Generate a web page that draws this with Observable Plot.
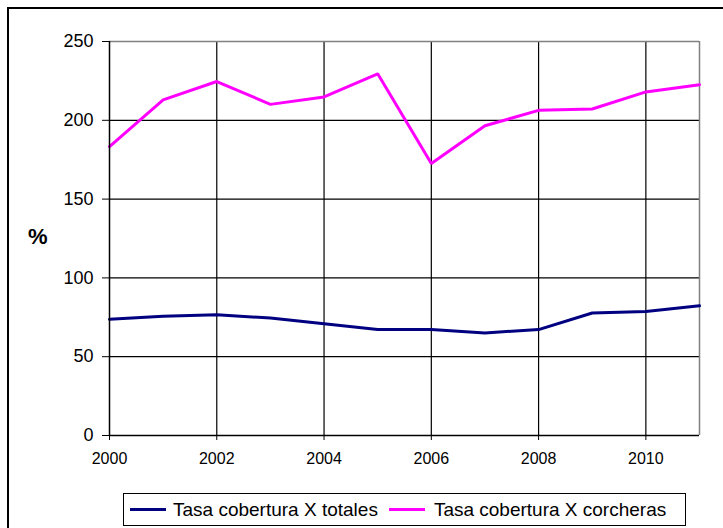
<!DOCTYPE html>
<html>
<head>
<meta charset="utf-8">
<script src="https://cdn.jsdelivr.net/npm/d3@7"></script>
<script src="https://cdn.jsdelivr.net/npm/@observablehq/plot@0.6"></script>
<style>
  html, body { margin: 0; padding: 0; background: #fff; }
  body { width: 723px; height: 528px; position: relative; overflow: hidden; font-family: "Liberation Sans", Arial, sans-serif; }
  #frame { position: absolute; left: 7px; top: 7px; width: 740px; height: 540px; border-left: 2px solid #000; border-top: 2px solid #000; }
  #chart { position: absolute; left: 0; top: 0; }
  #ylab { position: absolute; left: 28px; top: 224px; font-size: 22px; font-weight: bold; color: #000; }
  #legend { position: absolute; left: 123px; top: 493px; width: 563px; height: 33px; border: 1px solid #000; box-sizing: border-box; display: flex; align-items: center; font-size: 19px; color: #000; white-space: nowrap; }
  .item { display: flex; align-items: center; }
  .sw { display: inline-block; width: 36px; height: 3px; }
</style>
</head>
<body>
<div id="frame"></div>
<div id="chart"></div>
<div id="ylab">%</div>
<div id="legend"></div>
<script>
const years = [2000, 2001, 2002, 2003, 2004, 2005, 2006, 2007, 2008, 2009, 2010, 2011];
const totales = [73.7, 75.6, 76.6, 74.5, 70.9, 67.2, 67.2, 65.1, 67.2, 77.7, 78.7, 82.3];
const corcheras = [183.3, 213.0, 224.6, 210.1, 214.8, 229.5, 172.6, 196.5, 206.3, 207.2, 218.0, 222.6];
const seriesNames = ["Tasa cobertura X totales", "Tasa cobertura X corcheras"];
const seriesColors = ["#000080", "#FF00FF"];
const xTicks = [2000, 2002, 2004, 2006, 2008, 2010];
const yTicks = [0, 50, 100, 150, 200, 250];

const data = [];
years.forEach((y, i) => {
  data.push({year: y, value: totales[i], serie: seriesNames[0]});
  data.push({year: y, value: corcheras[i], serie: seriesNames[1]});
});

const chart = Plot.plot({
  width: 723,
  height: 475,
  marginLeft: 109,
  marginRight: 24,
  marginTop: 41,
  marginBottom: 40,
  style: { fontFamily: "'Liberation Sans', Arial, sans-serif", background: "transparent", color: "#000" },
  x: { domain: [2000, 2011], ticks: xTicks, tickFormat: d => String(d) },
  y: { domain: [0, 250], ticks: yTicks },
  color: { domain: seriesNames, range: seriesColors },
  marks: [
    Plot.ruleY(yTicks.filter(v => v > 0 && v < 250), { stroke: "#000", strokeWidth: 1.2 }),
    Plot.ruleX(xTicks.filter(v => v > 2000), { stroke: "#000", strokeWidth: 1.2 }),
    Plot.ruleY([250], { stroke: "#808080", strokeWidth: 1.5 }),
    Plot.ruleX([2011], { stroke: "#808080", strokeWidth: 1.5 }),
    Plot.axisY({ ticks: yTicks, tickSize: 7, tickPadding: 9, fontSize: 18, label: null, stroke: "#000" }),
    Plot.axisX({ ticks: xTicks, tickSize: 5, tickPadding: 12, fontSize: 16, label: null, tickFormat: d => String(d), stroke: "#000" }),
    Plot.line(data, { x: "year", y: "value", z: "serie", stroke: "serie", strokeWidth: 3, strokeLinejoin: "miter" }),
    Plot.ruleY([0], { stroke: "#000", strokeWidth: 1.5 }),
    Plot.ruleX([2000], { stroke: "#000", strokeWidth: 1.5 })
  ]
});
document.getElementById("chart").appendChild(chart);

const legend = document.getElementById("legend");
const swMargins = [[6, 7], [11, 9]];
seriesNames.forEach((name, i) => {
  const item = document.createElement("span");
  item.className = "item";
  const sw = document.createElement("span");
  sw.className = "sw";
  sw.style.background = seriesColors[i];
  sw.style.marginLeft = swMargins[i][0] + "px";
  sw.style.marginRight = swMargins[i][1] + "px";
  const t = document.createElement("span");
  t.textContent = name;
  item.appendChild(sw);
  item.appendChild(t);
  legend.appendChild(item);
});
</script>
</body>
</html>
